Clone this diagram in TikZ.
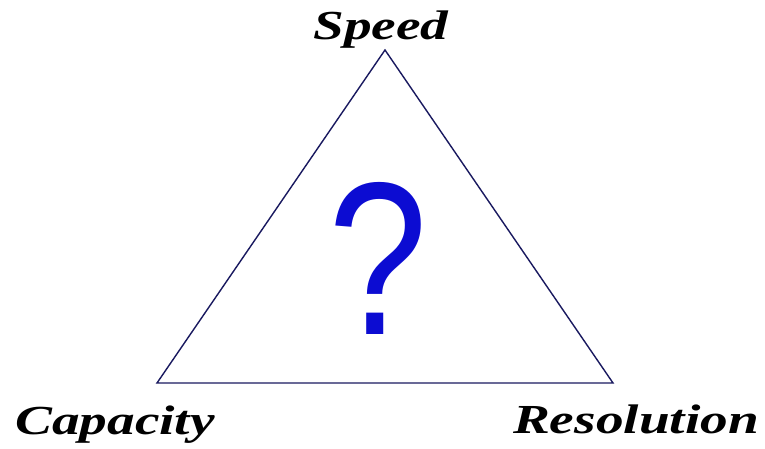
\documentclass[tikz,border=0pt]{standalone}
\usepackage{fontspec}
\setmainfont{Liberation Serif}
\newfontfamily\qfont{Liberation Sans}
\usetikzlibrary{positioning}
\definecolor{edgenavy}{RGB}{25,25,95}
\definecolor{qblue}{RGB}{12,12,210}
\newcommand{\widelabel}[1]{\scalebox{1.34}[1]{#1}}
\tikzset{
  corner/.style={font=\fontsize{23.5}{23.5}\selectfont\bfseries\itshape,
    anchor=base, inner sep=0pt},
  side/.style={edgenavy, line width=0.8pt, line join=miter}
}

\begin{document}
\begin{tikzpicture}[x=0.02cm, y=-0.02cm]
\useasboundingbox (0,0) rectangle (765,449);
\coordinate (apex) at (385,50);
\coordinate (bl) at (157,383);
\coordinate (br) at (613,383);
\draw[side] (apex) -- (br) -- (bl) -- cycle;
\node[corner] (speed) at (381,40) {\widelabel{Speed}};
\node[corner] (capacity) at (115,435) {\widelabel{Capacity}};
\node[corner] (resolution) at (636,434) {\widelabel{Resolution}};
\node[font=\fontsize{124}{124}\qfont, text=qblue, anchor=base, inner sep=0pt]
  (query) at (378,335) {\scalebox{0.82}[1]{?}};
\end{tikzpicture}
\end{document}
